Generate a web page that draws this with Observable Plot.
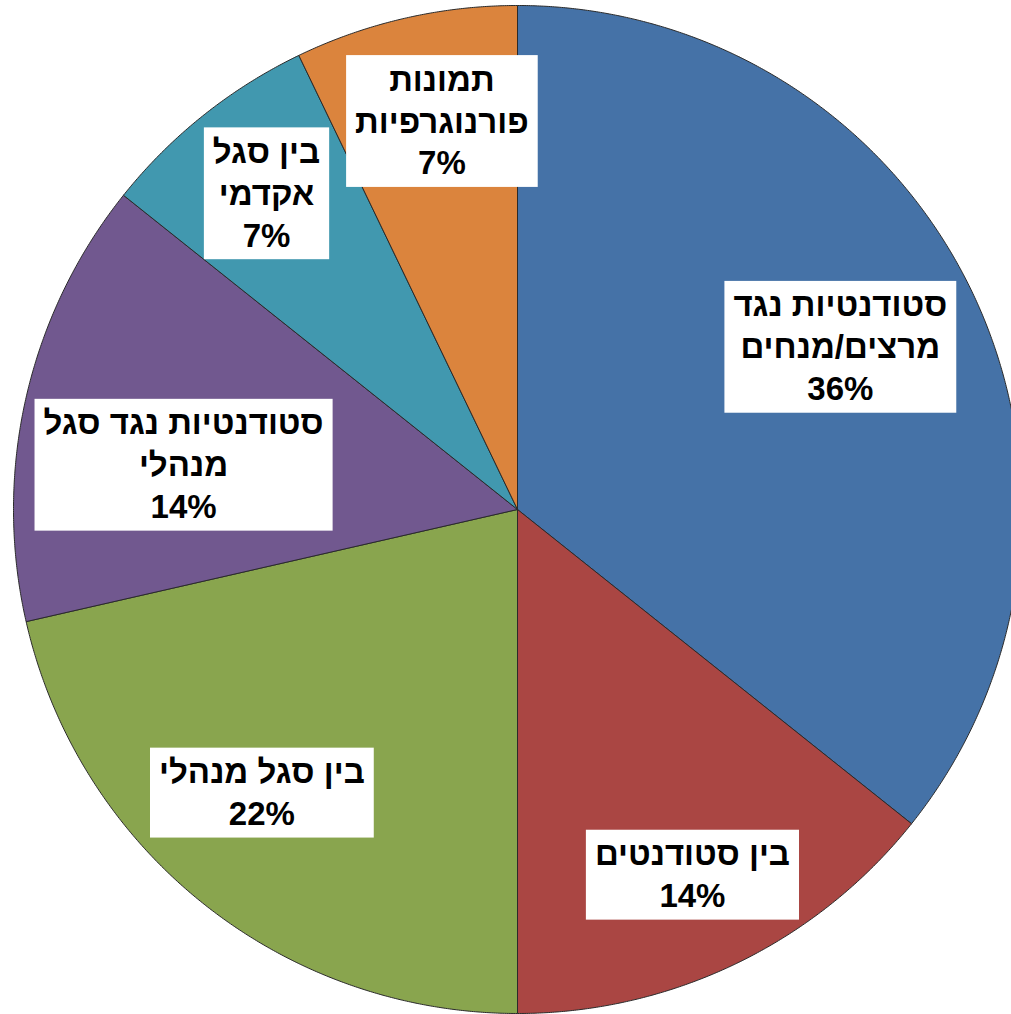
<!DOCTYPE html>
<html><head><meta charset="utf-8">
<script src="https://cdn.jsdelivr.net/npm/d3@7"></script>
<script src="https://cdn.jsdelivr.net/npm/@observablehq/plot@0.6"></script>
<style>html,body{margin:0;padding:0;background:#fff;overflow:hidden} svg{display:block}</style>
</head><body><div id="chart"></div>
<script>
// ---- data ----
const categories = ["סטודנטיות נגד\nמרצים/מנחים", "בין סטודנטים", "בין סגל מנהלי", "סטודנטיות נגד סגל\nמנהלי", "בין סגל\nאקדמי", "תמונות\nפורנוגרפיות"];
const counts = [10, 4, 6, 4, 2, 2];
const percentLabels = ["36%", "14%", "22%", "14%", "7%", "7%"];
// ---- styling / layout ----
const colors = ["#4572A7", "#AA4643", "#89A54E", "#71588F", "#4198AF", "#DB843D"];
const labelPlacement = [[0.719, -1.3], [0.80, 0], [0.754, 3.7], [0.669, -4.9], [0.804, 0.3], [0.789, 1.9]];

const W = 1011, H = 1014, cx = 517, cy = 509, R = 504;
const total = d3.sum(counts);
let acc = 0;
const slices = categories.map((c, i) => {
  const a0 = acc / total * 360; acc += counts[i]; const a1 = acc / total * 360;
  return {key: c, i, a0, a1};
});
const rad = Math.PI / 180;
const pts = [];
for (const s of slices) {
  pts.push({key: s.key, x: 0, y: 0});
  const n = Math.ceil((s.a1 - s.a0) / 0.25);
  for (let k = 0; k <= n; k++) {
    const a = (s.a0 + (s.a1 - s.a0) * k / n) * rad;
    pts.push({key: s.key, x: Math.sin(a), y: Math.cos(a)});
  }
  pts.push({key: s.key, x: 0, y: 0});
}
const labels = slices.map((s, i) => {
  const [d, off] = labelPlacement[i];
  const a = ((s.a0 + s.a1) / 2 + off) * rad;
  return {text: categories[i] + "\n" + percentLabels[i], x: d * Math.sin(a), y: d * Math.cos(a)};
});

const chart = Plot.plot({
  width: W, height: H, margin: 0,
  x: {domain: [-cx / R, (W - cx) / R], axis: null},
  y: {domain: [-(H - cy) / R, cy / R], axis: null},
  color: {domain: categories, range: colors},
  style: {background: "#fff"},
  marks: [
    Plot.line(pts, {x: "x", y: "y", z: "key", fill: "key", stroke: "#2a2a2a", strokeWidth: 1, strokeLinejoin: "miter", curve: "linear"}),
    Plot.text(labels, {x: "x", y: "y", text: "text", fontSize: 33, fontWeight: "bold",
      fontFamily: "Liberation Sans, Arial, sans-serif", lineHeight: 1.27, fill: "#000",
      textAnchor: "middle", lineAnchor: "middle"})
  ]
});
document.getElementById("chart").append(chart);

// white boxes behind labels
d3.select(chart).selectAll("g[aria-label=text] text").each(function() {
  const b = this.getBBox();
  const padX = 9, padY = 5.5;
  d3.select(this.parentNode).insert("rect", () => this)
    .attr("transform", this.getAttribute("transform"))
    .attr("x", b.x - padX).attr("y", b.y - padY)
    .attr("width", b.width + 2 * padX).attr("height", b.height + 2 * padY)
    .attr("fill", "#fff").attr("stroke", "none");
});
</script>
</body></html>
